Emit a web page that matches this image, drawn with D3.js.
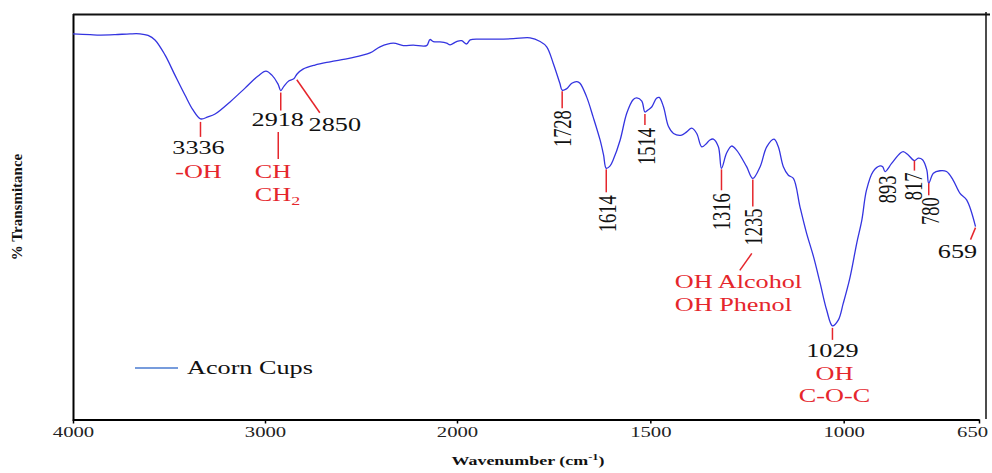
<!DOCTYPE html>
<html>
<head>
<meta charset="utf-8">
<script src="https://cdn.jsdelivr.net/npm/d3@7"></script>
<style>
  body { margin: 0; background: #fff; }
  text { font-family: "Liberation Serif", "Times New Roman", serif; }
</style>
</head>
<body>
<svg id="chart" width="992" height="473"></svg>
<script>
// FTIR spectrum, acorn cups
const wavenumber = [4000,3911,3859,3781,3703,3651,3609,3573,3521,3469,3417,3375,3336,3297,3260,3182,3104,3036,2995,2964,
  2932,2918,2901,2875,2850,2833,2802,2740,2661,2557,2453,2401,2332,2280,2228,2158,2141,2123,2089,2054,
  2036,2002,1988,1975,1966,1941,1897,1854,1811,1785,1768,1751,1734,1728,1717,1703,1690,1682,1665,1648,
  1630,1621,1614,1604,1596,1578,1561,1544,1535,1522,1514,1506,1496,1484,1477,1466,1453,1440,1419,1406,
  1393,1380,1367,1354,1346,1337,1324,1316,1303,1290,1277,1251,1235,1216,1199,1180,1169,1156,1143,1130,
  1113,1096,1078,1061,1044,1029,1014,1001,984,966,953,941,924,906,899,893,876,854,846,833,
  817,807,796,785,780,768,751,734,717,699,682,659];
const transmittance = [95.1,94.9,94.8,94.9,95.1,95.1,94.7,93.6,89.9,84.9,80.0,76.3,74.1,74.6,75.3,78.3,81.7,84.7,85.9,84.9,
  82.7,81.1,82.2,83.5,84.0,85.2,86.4,87.4,88.2,89.1,90.4,91.9,92.8,92.2,92.3,92.2,93.7,93.2,93.1,92.8,
  92.4,93.2,93.4,92.6,93.6,93.8,93.8,93.9,94.1,93.2,91.9,87.8,82.9,81.2,81.5,82.9,83.3,82.9,79.6,74.6,
  68.9,65.2,61.9,62.5,64.0,68.9,75.5,78.9,79.3,78.5,75.8,76.3,77.1,79.2,79.4,77.1,72.2,70.5,70.1,70.9,
  71.8,70.5,67.2,68.1,68.9,69.1,67.2,61.9,65.6,67.4,66.4,62.3,59.4,62.3,67.2,69.1,67.2,62.3,60.2,59.4,
  52.4,45.9,40.1,33.6,26.9,23.0,24.4,28.6,34.8,43.5,49.1,56.5,61.1,62.5,62.3,61.1,63.1,65.6,66.0,65.2,
  63.8,64.4,64.0,61.5,58.2,60.7,61.3,61.1,59.0,55.7,54.1,47.5];

const xTicks = [4000, 3000, 2000, 1500, 1000, 650];
const peakWn = [3336, 2918, 2850, 1728, 1614, 1514, 1316, 1235, 1029, 893, 817, 780, 659];
const bandWn = [3336, 2918, 1235, 1029];
const bandText = [["-OH"], ["CH", "CH2"], ["OH Alcohol", "OH Phenol"], ["OH", "C-O-C"]];
const seriesName = "Acorn Cups";

const SX = 1.38; // the picture is stretched sideways
const RED = "#e5262c";
const svg = d3.select("#chart");

// x axis is split: 4000-2000 at half the scale of 2000-650
const x = d3.scaleLinear().domain([4000, 2000, 650]).range([73, 457, 979]);
const y = d3.scaleLinear().domain([0, 100]).range([419, 14]);

// frame
svg.append("line").attr("x1", 73.5).attr("y1", 14).attr("x2", 73.5).attr("y2", 421)
  .attr("stroke", "#000").attr("stroke-width", 2);
svg.append("line").attr("x1", 73).attr("y1", 14.5).attr("x2", 990).attr("y2", 14.5)
  .attr("stroke", "#111").attr("stroke-width", 2);
svg.append("line").attr("x1", 986).attr("y1", 12).attr("x2", 986).attr("y2", 419)
  .attr("stroke", "#111").attr("stroke-width", 1.5);

const ax = svg.append("g").attr("transform", "translate(0,419.5)")
  .call(d3.axisBottom(x).tickValues(xTicks).tickSize(4).tickSizeOuter(0).tickPadding(3).tickFormat(d3.format("d")));
ax.select(".domain").attr("stroke", "#000").attr("stroke-width", 2);
ax.selectAll(".tick line").attr("stroke-width", 1.5);
ax.selectAll("text")
  .attr("font-family", "Liberation Serif, serif").attr("font-size", 15).attr("fill", "#222")
  .attr("transform", `scale(${SX},1)`);
// last label sits a little left of its tick, inside the page
ax.selectAll(".tick text").filter(d => d === 650).attr("x", -5);

// axis titles
const xt = svg.append("text").attr("transform", `translate(528,465) scale(${SX},1)`)
  .attr("text-anchor", "middle").attr("font-size", 13).attr("font-weight", "bold").attr("fill", "#111");
xt.append("tspan").text("Wavenumber (cm");
xt.append("tspan").attr("font-size", 9).attr("dy", -5).text("-1");
xt.append("tspan").attr("dy", 5).text(")");

svg.append("text").attr("transform", "translate(22,207) rotate(-90)")
  .attr("text-anchor", "middle").attr("font-size", 15).attr("font-weight", "bold").attr("fill", "#111")
  .text("% Transmitance");

// spectrum
const pts = wavenumber.map((w, i) => [x(w), y(transmittance[i])]);
svg.append("path")
  .attr("d", d3.line().curve(d3.curveCatmullRom.alpha(0.5))(pts))
  .attr("fill", "none").attr("stroke", "#3434e0").attr("stroke-width", 1.3);

// legend
svg.append("line").attr("x1", 135).attr("y1", 368).attr("x2", 178).attr("y2", 368)
  .attr("stroke", "#4a7bd0").attr("stroke-width", 1.6);
svg.append("text").attr("transform", `translate(187,374) scale(${SX},1)`)
  .attr("font-size", 19).attr("fill", "#111").text(seriesName);

// peak labels: offsets from the curve point
const layout = {
  3336: { lines: [[0, 3, 0, 18]], num: [-2, 35] },
  2918: { lines: [[0, 2, 0, 20], [-2.5, 41.5, -2.5, 68.5]], num: [-3, 35.5] },
  2850: { lines: [[3, 1, 26, 34]], num: [41, 52] },
  1728: { lines: [[0, 1, 0, 18]], rot: [0, 20] },
  1614: { lines: [[0, 1, 0, 24]], rot: [1, 27] },
  1514: { lines: [[0, 2, 0, 13]], rot: [1, 16] },
  1316: { lines: [[0, 1, 0, 22]], rot: [0, 25] },
  1235: { lines: [[0, 1, 0, 28], [-1, 75, -13, 92]], rot: [0, 30] },
  1029: { lines: [[0, 2, 0, 14]], num: [0, 31] },
  893:  { lines: [], rot: [2, 4] },
  817:  { lines: [[0, 0, 0, 10]], rot: [-1, 12] },
  780:  { lines: [[0, 0, 0, 12]], rot: [1, 14] },
  659:  { lines: [[0, 1, -5, 13]], num: [-18, 31] }
};
const bandLayout = {
  3336: { pos: [-2, 59], anchor: "middle" },
  2918: { pos: [-26, 87.5], anchor: "start" },
  1235: { pos: [-78, 110], anchor: "start" },
  1029: { pos: [2, 54], anchor: "middle" }
};

const ann = svg.append("g");
peakWn.forEach(w => {
  const i = wavenumber.indexOf(w);
  const px = x(w), py = y(transmittance[i]);
  const L = layout[w];
  L.lines.forEach(l => {
    ann.append("line")
      .attr("x1", px + l[0]).attr("y1", py + l[1]).attr("x2", px + l[2]).attr("y2", py + l[3])
      .attr("stroke", RED).attr("stroke-width", 1.5);
  });
  if (L.num) {
    ann.append("text").attr("transform", `translate(${px + L.num[0]},${py + L.num[1]}) scale(${SX},1)`)
      .attr("text-anchor", "middle").attr("font-size", 19).attr("fill", "#111").text(w);
  }
  if (L.rot) {
    ann.append("text").attr("transform", `translate(${px + L.rot[0]},${py + L.rot[1]}) scale(${SX},1) rotate(-90)`)
      .attr("text-anchor", "end").attr("dy", "0.35em").attr("font-size", 18.5).attr("fill", "#111").text(w);
  }
  const b = bandWn.indexOf(w);
  if (b >= 0) {
    const B = bandLayout[w];
    bandText[b].forEach((s, k) => {
      const t = ann.append("text")
        .attr("transform", `translate(${px + B.pos[0]},${py + B.pos[1] + k * 22.5}) scale(${SX},1)`)
        .attr("text-anchor", B.anchor).attr("font-size", 19).attr("fill", RED);
      const m = s.match(/^(.*?)(\d+)$/);
      if (m) {
        t.append("tspan").text(m[1]);
        t.append("tspan").attr("font-size", 13).attr("dy", 4).text(m[2]);
      } else {
        t.text(s);
      }
    });
  }
});
</script>
</body>
</html>
